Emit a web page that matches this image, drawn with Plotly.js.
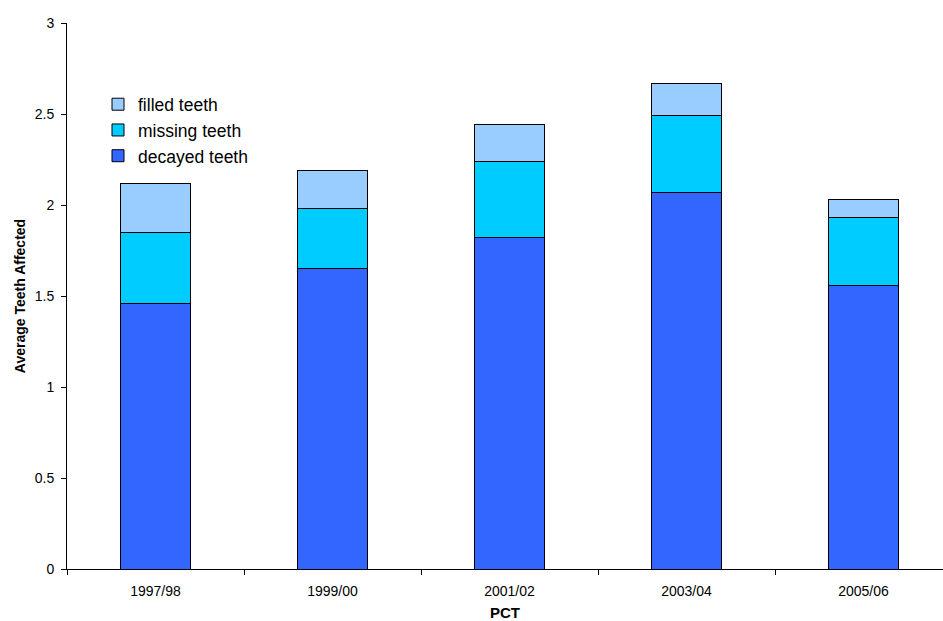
<!DOCTYPE html>
<html><head><meta charset="utf-8">
<script src="https://cdn.plot.ly/plotly-3.0.1.min.js"></script>
<style>html,body{margin:0;padding:0;background:#fff}</style>
</head><body>
<div id="chart" style="width:943px;height:621px"></div>
<script>
const categories = ["1997/98", "1999/00", "2001/02", "2003/04", "2005/06"];
const decayed = [1.46, 1.65, 1.82, 2.07, 1.56];
const missing = [0.39, 0.33, 0.42, 0.42, 0.37];
const filled  = [0.27, 0.21, 0.20, 0.18, 0.10];
const seriesNames = ["decayed teeth", "missing teeth", "filled teeth"];
const colors = ["#3366FF", "#00CCFF", "#99CCFF"];

const vals = [decayed, missing, filled];
const traces = vals.map((v, i) => ({
  type: "bar", x: categories, y: v, name: seriesNames[i],
  width: 0.4,
  marker: {color: colors[i], line: {color: "#000", width: 1}},
  hoverinfo: "y"
}));

const layout = {
  width: 943, height: 621,
  margin: {l: 67, r: 0, t: 23, b: 52},
  barmode: "stack",
  paper_bgcolor: "#fff", plot_bgcolor: "#fff",
  font: {family: "Arial, Liberation Sans, sans-serif", size: 14, color: "#000"},
  showlegend: true,
  legend: {x: 0.0354, y: 0.884, xanchor: "left", yanchor: "top", traceorder: "reversed",
    font: {size: 17.5}, bgcolor: "rgba(0,0,0,0)", tracegroupgap: 0, itemwidth: 30},
  xaxis: {
    type: "category", range: [-0.5, 4.449], tickson: "boundaries",
    ticks: "outside", ticklen: 5, tickcolor: "#000", showline: true, linecolor: "#000", linewidth: 1,
    showgrid: false, zeroline: false, ticklabelstandoff: 9,
    title: {text: "<b>PCT</b>", font: {size: 15}, standoff: 13},
    tickfont: {size: 14}
  },
  yaxis: {
    range: [0, 3], dtick: 0.5, ticks: "outside", ticklen: 5, tickcolor: "#000",
    showline: true, linecolor: "#000", linewidth: 1, showgrid: false, zeroline: false,
    ticklabelstandoff: 4,
    title: {text: "<b>Average Teeth Affected</b>", font: {size: 14}, standoff: 5},
    tickfont: {size: 14}
  }
};
Plotly.newPlot("chart", traces, layout, {displayModeBar: false, staticPlot: true});
</script>
</body></html>
